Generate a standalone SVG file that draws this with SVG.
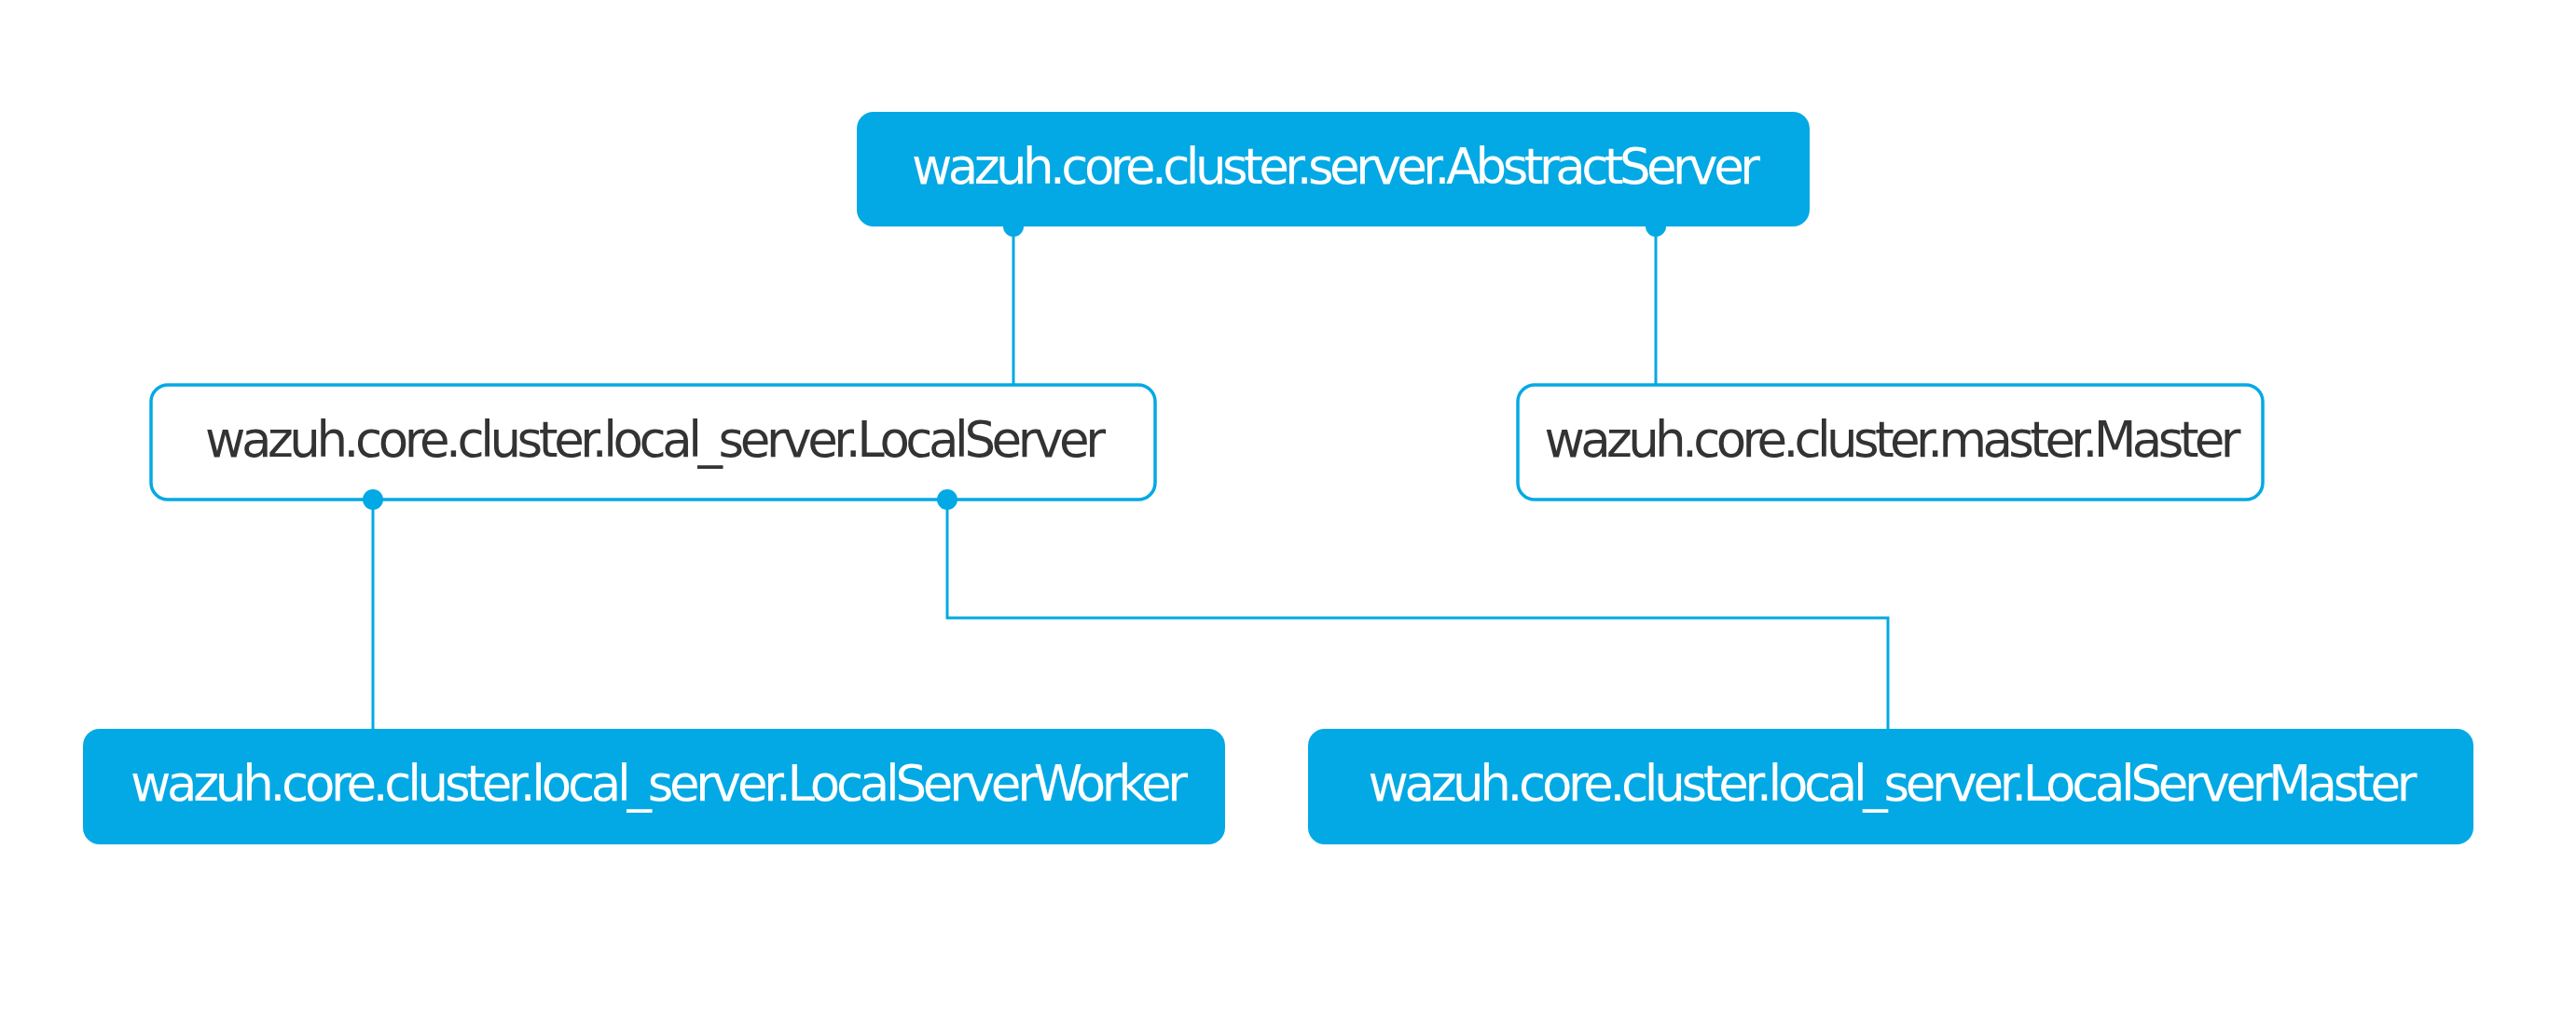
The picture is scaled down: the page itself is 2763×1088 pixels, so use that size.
<svg xmlns="http://www.w3.org/2000/svg" width="2763" height="1088" viewBox="0 0 2763 1088">
<style>
.filled rect{fill:#03a9e4;}
.outlined rect{fill:#ffffff;stroke:#03a9e4;stroke-width:3.5;}
text{font-family:"DejaVu Sans","Liberation Sans",sans-serif;font-size:53px;text-anchor:middle;}
.filled text{fill:#ffffff;}
.outlined text{fill:#333333;}
.conn path{fill:none;stroke:#03a9e4;stroke-width:3;}
.conn circle{fill:#03a9e4;}
</style>
<rect width="2763" height="1088" fill="#ffffff"/>
<g id="node-abstractserver" class="filled">
<rect x="919" y="120" width="1022" height="123" rx="18"/>
<text x="1433" y="197" textLength="910" lengthAdjust="spacing">wazuh.core.cluster.server.AbstractServer</text>
</g>
<g id="node-localserver" class="outlined">
<rect x="162" y="413" width="1077" height="123" rx="18"/>
<text x="703" y="490" textLength="966" lengthAdjust="spacing">wazuh.core.cluster.local_server.LocalServer</text>
</g>
<g id="node-master" class="outlined">
<rect x="1628" y="413" width="799" height="123" rx="18"/>
<text x="2030" y="490" textLength="747" lengthAdjust="spacing">wazuh.core.cluster.master.Master</text>
</g>
<g id="node-localserverworker" class="filled">
<rect x="89" y="782" width="1225" height="124" rx="18"/>
<text x="707" y="859" textLength="1134" lengthAdjust="spacing">wazuh.core.cluster.local_server.LocalServerWorker</text>
</g>
<g id="node-localservermaster" class="filled">
<rect x="1403" y="782" width="1250" height="124" rx="18"/>
<text x="2030" y="859" textLength="1125" lengthAdjust="spacing">wazuh.core.cluster.local_server.LocalServerMaster</text>
</g>
<g id="connectors" class="conn">
<path d="M1087 243 V413"/>
<circle cx="1087" cy="243" r="11"/>
<path d="M1776 243 V413"/>
<circle cx="1776" cy="243" r="11"/>
<path d="M400 536 V782"/>
<circle cx="400" cy="536" r="11"/>
<path d="M1016 536 V663 H2025 V782"/>
<circle cx="1016" cy="536" r="11"/>
</g>
</svg>
